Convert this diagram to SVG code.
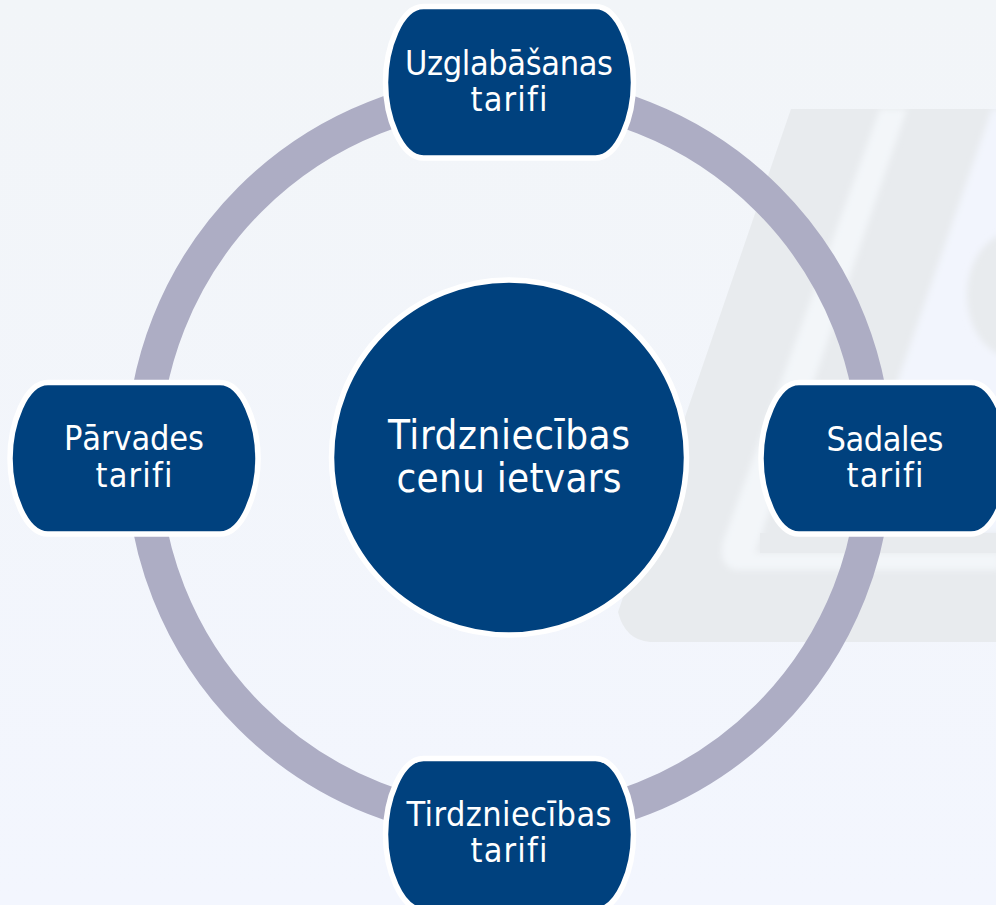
<svg xmlns="http://www.w3.org/2000/svg" width="996" height="905" viewBox="0 0 996 905">
<style>
.node{fill:#00417e;stroke:#fff;stroke-width:5.5}
text{font-family:"DejaVu Sans",sans-serif;font-stretch:condensed;font-variant-ligatures:none;fill:#fff;text-anchor:middle}
.s{font-size:34px}
.b{font-size:40px}
.w{fill:#e8ebee}
.g{fill:#f3f6f9}
.l{fill:#f2f5fd}
</style>
<defs>
<linearGradient id="bg" x1="0" y1="0" x2="0" y2="1"><stop offset="0" stop-color="#f2f5f8"/><stop offset="1" stop-color="#f3f6fe"/></linearGradient>
<filter id="soft" x="-5%" y="-5%" width="110%" height="110%"><feGaussianBlur stdDeviation="3"/></filter>
<path id="pill" d="M38 0H210C233 0 248 42 248 76C248 110 233 151.500 210 151.500H38C15 151.500 0 110 0 76C0 42 15 0 38 0Z"/>
</defs>
<rect width="996" height="905" fill="url(#bg)"/>
<g id="watermark">
<path class="w" d="M791 109H1000V642H650Q625 640 618 612Z"/>
<path class="g" filter="url(#soft)" d="M880 109H907L755 553H1000V570H735Q718 565 723 542Z"/>
<path class="l" filter="url(#soft)" d="M992 109H1010V533H845Z"/>
<ellipse class="w" filter="url(#soft)" cx="1012" cy="295" rx="45" ry="62"/>
<rect class="w" x="760" y="533" width="240" height="20"/>
</g>
<g id="connectors"><circle cx="509" cy="458" r="366" fill="none" stroke="#adadc4" stroke-width="34"/></g>
<g id="center"><circle class="node" cx="509" cy="457.500" r="177.500" stroke-width="6"/><text class="b" x="509" y="449" textLength="242" lengthAdjust="spacing">Tirdzniecības</text><text class="b" x="509" y="492" textLength="225" lengthAdjust="spacing">cenu ietvars</text></g>
<g id="node-top"><use href="#pill" class="node" x="385.500" y="6.500"/><text class="s" x="509" y="75" textLength="208" lengthAdjust="spacing">Uzglabāšanas</text><text class="s" x="509" y="111" textLength="77" lengthAdjust="spacing">tarifi</text></g>
<g id="node-right"><use href="#pill" class="node" x="761" y="382.500"/><text class="s" x="885" y="451" textLength="117" lengthAdjust="spacing">Sadales</text><text class="s" x="885" y="487" textLength="77" lengthAdjust="spacing">tarifi</text></g>
<g id="node-bottom"><use href="#pill" class="node" x="385.500" y="758.500"/><text class="s" x="509" y="826" textLength="205" lengthAdjust="spacing">Tirdzniecības</text><text class="s" x="509" y="862" textLength="77" lengthAdjust="spacing">tarifi</text></g>
<g id="node-left"><use href="#pill" class="node" x="10" y="382.500"/><text class="s" x="134" y="450" textLength="140" lengthAdjust="spacing">Pārvades</text><text class="s" x="134" y="487" textLength="77" lengthAdjust="spacing">tarifi</text></g>
</svg>
